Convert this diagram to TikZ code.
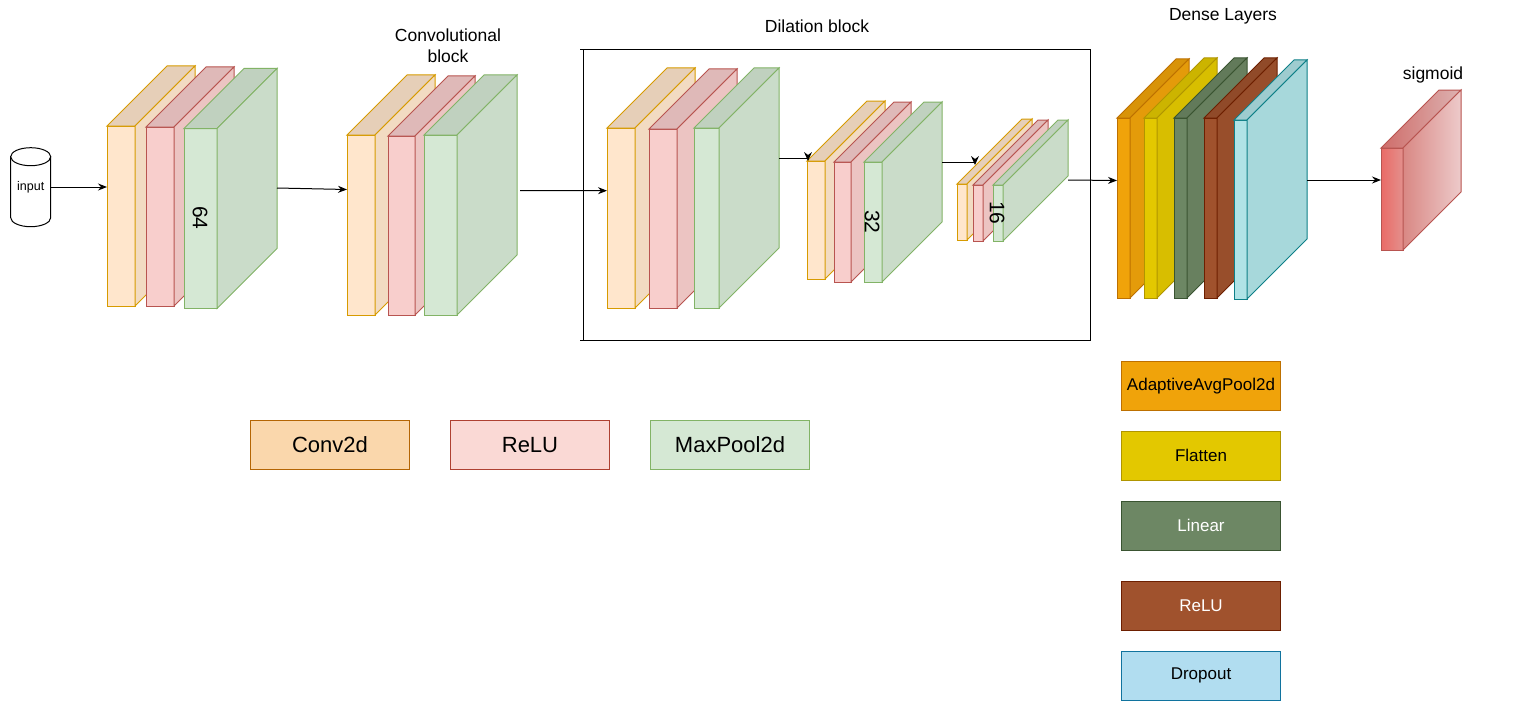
\documentclass[tikz,border=0pt]{standalone}
\usepackage{fontspec}
\setmainfont{Liberation Sans}
\usetikzlibrary{arrows.meta}
% conv block colours
\definecolor{cof}{HTML}{FFE6CC}\definecolor{cot}{HTML}{E6CFB8}\definecolor{cod}{HTML}{F2DBC2}\definecolor{cos}{HTML}{D79B00}
\definecolor{crf}{HTML}{F8CECC}\definecolor{crt}{HTML}{DFB9B8}\definecolor{crd}{HTML}{ECC4C2}\definecolor{crs}{HTML}{B85450}
\definecolor{cgf}{HTML}{D5E8D4}\definecolor{cgt}{HTML}{C0D1BF}\definecolor{cgd}{HTML}{CADCC9}\definecolor{cgs}{HTML}{82B366}
% dense colours
\definecolor{dof}{HTML}{F0A30A}\definecolor{dot}{HTML}{D89309}\definecolor{dod}{HTML}{E49B0A}\definecolor{dos}{HTML}{BD7000}
\definecolor{dyf}{HTML}{E3C800}\definecolor{dyt}{HTML}{CCB400}\definecolor{dyd}{HTML}{D8BE00}\definecolor{dys}{HTML}{B09500}
\definecolor{dgf}{HTML}{6D8764}\definecolor{dgt}{HTML}{627A5A}\definecolor{dgd}{HTML}{68805F}\definecolor{dgs}{HTML}{3A5431}
\definecolor{dbf}{HTML}{A0522D}\definecolor{dbt}{HTML}{904A29}\definecolor{dbd}{HTML}{984E2B}\definecolor{dbs}{HTML}{6D1F00}
\definecolor{dcf}{HTML}{B0E3E6}\definecolor{dct}{HTML}{9ECCCF}\definecolor{dcd}{HTML}{A7D8DB}\definecolor{dcs}{HTML}{0E8088}
% legend colours
\definecolor{lconvf}{HTML}{FAD7AC}\definecolor{lconvs}{HTML}{B46504}
\definecolor{lreluf}{HTML}{FAD9D5}\definecolor{lrelus}{HTML}{AE4132}
\definecolor{ldropf}{HTML}{B1DDF0}\definecolor{ldrops}{HTML}{10739E}
% sigmoid colours
\definecolor{sfa}{HTML}{EA6B66}\definecolor{sfb}{HTML}{E3908D}
\definecolor{sta}{HTML}{CF6D6A}\definecolor{stb}{HTML}{DDB2B1}
\definecolor{sda}{HTML}{D98884}\definecolor{sdb}{HTML}{EDCACA}
\definecolor{sst}{HTML}{B85450}
% cuboid: x y w h depth colour-prefix
\newcommand{\cuboid}[6]{%
  \filldraw[draw=#6s, fill=#6f, line width=1pt] (#1,#2) rectangle ++(#3,#4);
  \filldraw[draw=#6s, fill=#6t, line width=1pt] (#1,#2) -- ++(#5,-#5) -- ++(#3,0) -- ++(-#5,#5) -- cycle;
  \filldraw[draw=#6s, fill=#6d, line width=1pt] ({#1+#3},#2) -- ++(#5,-#5) -- ++(0,#4) -- ++(-#5,#5) -- cycle;
}
% downward arrowhead at a named coordinate
\newcommand{\downhead}[1]{%
  \fill[black] ([yshift=-3pt]#1) -- ++(-4,-9) -- ++(4,3) -- ++(4,-3) -- cycle;
}
\begin{document}
\begin{tikzpicture}[x=1pt,y=-1pt,line join=miter,
  conn/.style={draw=black, line width=1pt, -{Stealth[length=9pt,width=7pt,inset=3pt]}},
  plain/.style={draw=black, line width=1pt},
  lbl/.style={font=\fontsize{17.5}{21}\selectfont, inner sep=0pt, align=center},
  dimlbl/.style={font=\fontsize{21}{24}\selectfont, rotate=-90, inner sep=0pt},
  legA/.style={draw, line width=1pt, minimum width=159pt, minimum height=49pt, inner sep=0pt, font=\fontsize{22}{26}\selectfont},
  legB/.style={draw, line width=1pt, minimum width=159pt, minimum height=49pt, inner sep=0pt, font=\fontsize{17}{20}\selectfont},
]
\fill[white] (0,0) rectangle (1526,701);
\useasboundingbox (0,0) rectangle (1526,701);

% input cylinder
\filldraw[fill=white, draw=black, line width=1pt] (10.7,156.7) -- (10.7,217.7)
  arc[start angle=180, end angle=0, x radius=20, y radius=9] -- (50.7,156.7) -- cycle;
\filldraw[fill=white, draw=black, line width=1pt] (30.7,156.7) ellipse[x radius=20, y radius=9];
\node[font=\fontsize{12.5}{14}\selectfont, inner sep=0pt] (input) at (30.7,187) {input};

% block 1
\cuboid{107}{126}{28}{180}{60}{co}
\cuboid{146}{127}{28}{179}{60}{cr}
\cuboid{184}{128.5}{33}{180}{60}{cg}
\node[dimlbl] (n64) at (200,218) {64};

% block 2
\node[lbl] (convlbl) at (448,46) {Convolutional\\block};
\cuboid{347}{135}{28}{180}{60}{co}
\cuboid{388}{136}{27}{179}{60}{cr}
\cuboid{424}{135}{33}{180}{60}{cg}

% dilation block frame
\node[lbl] (dillbl) at (817,26) {Dilation block};
\draw[plain] (580,50) -- (1090,50) -- (1090,340) -- (580,340);
\draw[plain] (583,50) -- (583,340);

% block 3
\cuboid{607}{128}{28}{180}{60}{co}
\cuboid{649}{129}{28}{179}{60}{cr}
\cuboid{694}{128}{25}{180}{60}{cg}
% block 32
\cuboid{807}{161}{18}{118}{60}{co}
\cuboid{834}{162}{17}{120}{60}{cr}
\cuboid{864}{162}{18}{120}{60}{cg}
\node[dimlbl] (n32) at (872,222) {32};
% block 16
\cuboid{957}{184}{10}{56}{65}{co}
\cuboid{973}{185}{10}{56}{65}{cr}
\cuboid{993}{185}{10}{56}{65}{cg}
\node[dimlbl] (n16) at (997,213) {16};

% dense layers
\node[lbl] (denselbl) at (1223,16) {Dense Layers};
\cuboid{1117}{118}{13}{180}{59}{do}
\cuboid{1144}{118}{13}{180}{60}{dy}
\cuboid{1174}{118}{13}{180}{60}{dg}
\cuboid{1204}{118}{13}{180}{60}{db}
\cuboid{1234}{120}{13}{179}{60}{dc}

% sigmoid
\node[lbl] (siglbl) at (1433,75) {sigmoid};
\shadedraw[left color=sfa, right color=sfb, draw=sst, line width=1pt] (1381,148) rectangle (1403,250);
\shadedraw[left color=sta, right color=stb, draw=sst, line width=1pt] (1381,148) -- (1439,90) -- (1461,90) -- (1403,148) -- cycle;
\shadedraw[left color=sda, right color=sdb, draw=sst, line width=1pt] (1403,148) -- (1461,90) -- (1461,192) -- (1403,250) -- cycle;

% connector end points
\coordinate (in-e) at (50.7,187);
\coordinate (b1-in) at (107,187);
\coordinate (b1-out) at (277,188);
\coordinate (b2-in) at (347,189.5);
\coordinate (b2-out) at (520,190.5);
\coordinate (b3-in) at (607,190.7);
\coordinate (b3-out) at (779,158);
\coordinate (b4-in) at (808,158);
\coordinate (b4-out) at (942,162);
\coordinate (b5-in) at (975,162);
\coordinate (b5-out) at (1068,180);
\coordinate (d-in) at (1117,180.5);
\coordinate (d-out) at (1307,180);
\coordinate (s-in) at (1381,180);

% connectors
\draw[conn] (in-e) -- (b1-in);
\draw[conn] (b1-out) -- (b2-in);
\draw[conn] (b2-out) -- (b3-in);
\draw[plain] (b3-out) -- (b4-in);
\downhead{b4-in}
\draw[plain] (b4-out) -- (b5-in);
\downhead{b5-in}
\draw[conn] (b5-out) -- (d-in);
\draw[conn] (d-out) -- (s-in);

% legend (left)
\node[legA, fill=lconvf, draw=lconvs] (legconv) at (330,445) {Conv2d};
\node[legA, fill=lreluf, draw=lrelus] (legrelu) at (530,445) {ReLU};
\node[legA, fill=cgf, draw=cgs] (legpool) at (730,445) {MaxPool2d};

% legend (dense)
\node[legB, fill=dof, draw=dos] (legavg) at (1201,385.7) {AdaptiveAvgPool2d};
\node[legB, fill=dyf, draw=dys] (legflat) at (1201,455.7) {Flatten};
\node[legB, fill=dgf, draw=dgs, text=white] (leglin) at (1201,525.7) {Linear};
\node[legB, fill=dbf, draw=dbs, text=white] (legdrelu) at (1201,605.7) {ReLU};
\node[legB, fill=ldropf, draw=ldrops] (legdrop) at (1201,675.7) {Dropout};
\end{tikzpicture}
\end{document}
